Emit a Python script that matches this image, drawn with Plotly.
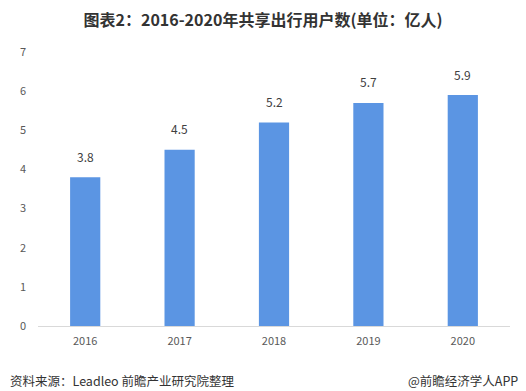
import plotly.graph_objects as go

years = ["2016", "2017", "2018", "2019", "2020"]
users = [3.8, 4.5, 5.2, 5.7, 5.9]
y_ticks = [0, 1, 2, 3, 4, 5, 6, 7]

title_text = "图表2：2016-2020年共享出行用户数(单位：亿人)"
source_text = "资料来源：Leadleo 前瞻产业研究院整理"
brand_text = "@前瞻经济学人APP"

font_family = "Microsoft YaHei, Noto Sans CJK SC, sans-serif"

fig = go.Figure()
fig.add_trace(go.Bar(
    x=years, y=users,
    marker=dict(color="#5b95e3", line=dict(width=0)),
    width=0.32,
    hoverinfo="x+y",
))

# value labels: category axes take the serial index of each category
label_annotations = [
    dict(x=i, y=v, text=f"{v:.1f}", xref="x", yref="y", showarrow=False,
         yanchor="middle", yshift=21,
         font=dict(size=12, color="#404040", family=font_family))
    for i, v in enumerate(users)
]

fig.update_layout(
    width=526, height=391,
    margin=dict(l=38, r=16, t=52, b=65),
    paper_bgcolor="white", plot_bgcolor="white",
    showlegend=False,
    font=dict(family=font_family, color="#595959"),
    title=dict(text="<b>" + title_text + "</b>", x=0.5, xanchor="center",
               y=1 - 20 / 391, yanchor="middle",
               font=dict(size=16, color="#333333", family=font_family)),
    xaxis=dict(type="category", showgrid=False, showline=True, linecolor="#d9d9d9",
               linewidth=1, ticks="", tickfont=dict(size=11, color="#595959"),
               ticklabelstandoff=5),
    yaxis=dict(range=[0, 7], tickvals=y_ticks, showgrid=False, zeroline=False,
               showline=False, ticks="", tickfont=dict(size=11, color="#595959"),
               ticklabelstandoff=11),
    annotations=label_annotations + [
        dict(text=source_text, xref="paper", yref="paper", x=-30 / 472, y=-54 / 274,
             xanchor="left", yanchor="middle", showarrow=False,
             font=dict(size=12.5, color="#333333", family=font_family)),
        dict(text=brand_text, xref="paper", yref="paper", x=1 + 10 / 472, y=-54 / 274,
             xanchor="right", yanchor="middle", showarrow=False,
             font=dict(size=12.5, color="#333333", family=font_family)),
    ],
)

fig.write_html("out.html", post_script="document.body.style.margin='0';",
               config={"displayModeBar": False})
